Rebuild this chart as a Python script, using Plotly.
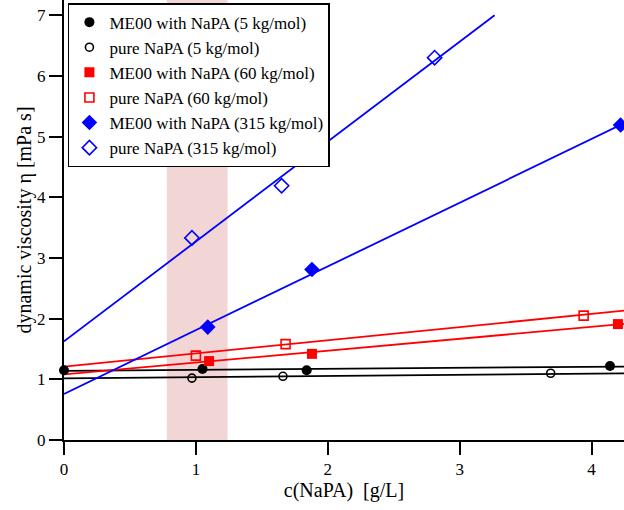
import numpy as np
import plotly.graph_objects as go

# ---- data ----
names = ["ME00 with NaPA (5 kg/mol)", "pure NaPA (5 kg/mol)",
         "ME00 with NaPA (60 kg/mol)", "pure NaPA (60 kg/mol)",
         "ME00 with NaPA (315 kg/mol)", "pure NaPA (315 kg/mol)"]

me5_x = [0.0, 1.05, 1.84, 4.14]
me5_y = [1.15, 1.17, 1.15, 1.22]
pure5_x = [0.97, 1.66, 3.69]
pure5_y = [1.02, 1.05, 1.10]
me60_x = [1.10, 1.88, 4.20]
me60_y = [1.30, 1.42, 1.91]
pure60_x = [1.00, 1.68, 3.94]
pure60_y = [1.39, 1.58, 2.05]
me315_x = [1.09, 1.88, 4.22]
me315_y = [1.86, 2.81, 5.19]
pure315_x = [0.97, 1.65, 2.81]
pure315_y = [3.33, 4.19, 6.30]

# linear fit lines: intercept, slope, x-extent
fit_intercept = [1.14, 1.015, 1.08, 1.21, 0.76, 1.625]
fit_slope = [0.0165, 0.0193, 0.196, 0.217, 1.05, 1.646]
fit_xmax = [4.4, 4.4, 4.4, 4.4, 4.4, 3.265]

band = [0.78, 1.24]

x_ticks = [0, 1, 2, 3, 4]
y_ticks = [0, 1, 2, 3, 4, 5, 6, 7]

colors = ["black", "black", "#ff0000", "#ff0000", "#0000ff", "#0000ff"]
symbols = ["circle", "circle-open", "square", "square-open", "diamond", "diamond-open"]
sizes = [10, 8, 10, 9, 12, 11]
line_w = [0, 1.6, 0, 1.6, 0, 1.6]

series_x = [me5_x, pure5_x, me60_x, pure60_x, me315_x, pure315_x]
series_y = [me5_y, pure5_y, me60_y, pure60_y, me315_y, pure315_y]

FONT = "Liberation Serif"

fig = go.Figure()

# fit lines
for i in range(6):
    xl = np.array([0.0, fit_xmax[i]])
    yl = fit_intercept[i] + fit_slope[i] * xl
    fig.add_trace(go.Scatter(x=xl, y=yl, mode="lines",
                             line=dict(color=colors[i], width=1.8),
                             showlegend=False, hoverinfo="skip"))

# markers
for i in range(6):
    fig.add_trace(go.Scatter(
        x=series_x[i], y=series_y[i], mode="markers", name=names[i],
        marker=dict(symbol=symbols[i], size=sizes[i], color=colors[i],
                    line=dict(color=colors[i], width=line_w[i])),
        cliponaxis=False))

fig.add_shape(type="rect", xref="x", yref="y domain", x0=band[0], x1=band[1],
              y0=0, y1=1, fillcolor="#f2d6d6", line=dict(width=0), layer="below")

axis_common = dict(showgrid=False, zeroline=False, showline=True, linecolor="black",
                   linewidth=2, ticks="outside", ticklen=13, tickwidth=1.5,
                   tickcolor="black", automargin=False,
                   tickfont=dict(family=FONT, size=17, color="black"))

fig.update_layout(
    width=624, height=510,
    margin=dict(l=64, r=0, t=0, b=70),
    paper_bgcolor="white", plot_bgcolor="white",
    font=dict(family=FONT, color="black"),
    xaxis=dict(range=[0, 4.246], tickvals=x_ticks,
               title=dict(text="c(NaPA)  [g/L]", font=dict(family=FONT, size=20), standoff=0),
               **axis_common),
    yaxis=dict(range=[0, 7.25], tickvals=y_ticks,
               title=dict(text="dynamic viscosity η [mPa s]", font=dict(family=FONT, size=20), standoff=0),
               **axis_common),
    legend=dict(x=0.007, y=0.993, xanchor="left", yanchor="top",
                bgcolor="white", bordercolor="black", borderwidth=1.5,
                font=dict(family=FONT, size=17, color="black"),
                tracegroupgap=0),
    showlegend=True,
)

fig.write_html("out.html", config={"displayModeBar": False},
               post_script="document.body.style.margin='0';document.body.style.padding='0';")
